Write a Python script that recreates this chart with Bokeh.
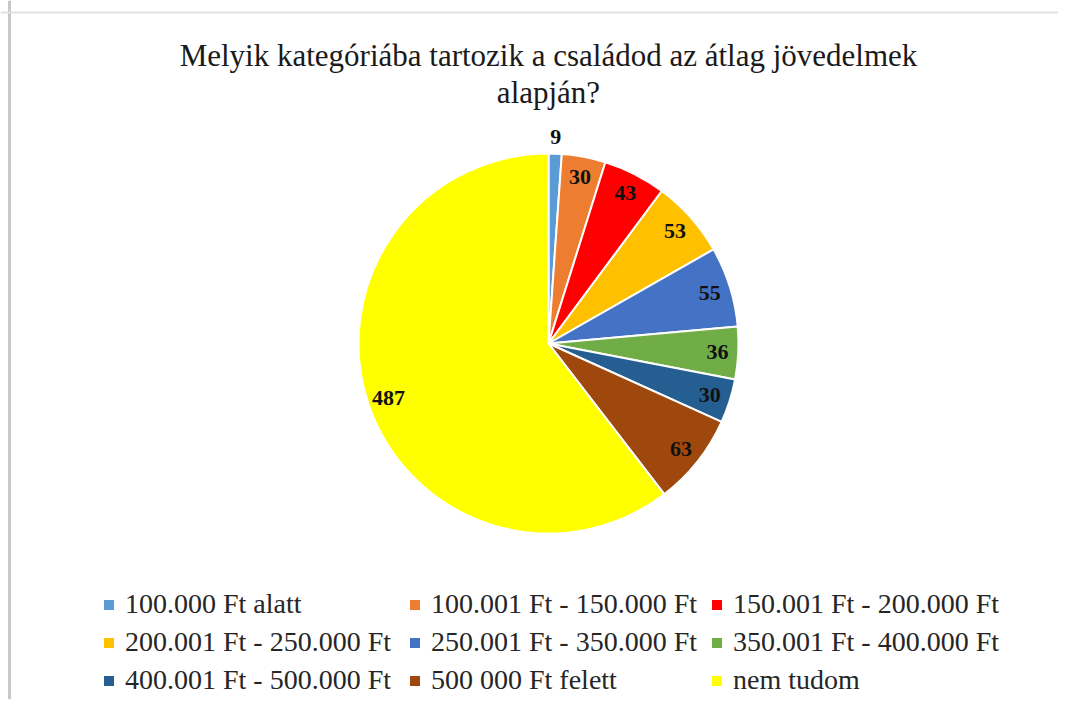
import numpy as np
from bokeh.plotting import figure
from bokeh.models import ColumnDataSource, Legend, LegendItem, Label, Span
from bokeh.core.properties import value
from bokeh.embed import file_html
from bokeh.resources import INLINE

categories = ["100.000 Ft alatt", "100.001 Ft - 150.000 Ft", "150.001 Ft - 200.000 Ft",
              "200.001 Ft - 250.000 Ft", "250.001 Ft - 350.000 Ft", "350.001 Ft - 400.000 Ft",
              "400.001 Ft - 500.000 Ft", "500 000 Ft felett", "nem tudom"]
counts = [9, 30, 43, 53, 55, 36, 30, 63, 487]
colors = ["#5B9BD5", "#ED7D31", "#FF0000", "#FFC000", "#4472C4", "#70AD47",
          "#255E91", "#9E480E", "#FFFF00"]
title_lines = ["Melyik kategóriába tartozik a családod az átlag jövedelmek", "alapján?"]

W, H = 1058, 699
R_PX = 190.0
CX, CY = 548, 343  # pie centre in canvas pixels

vals = np.array(counts, dtype=float)
frac = vals / vals.sum()
cum_end = np.cumsum(frac)
cum_start = cum_end - frac
start = np.pi / 2 - cum_start * 2 * np.pi
end = np.pi / 2 - cum_end * 2 * np.pi
mid = (start + end) / 2
lab_r = np.where(vals < 15, 1.085, 0.89)

src = ColumnDataSource(dict(
    cat=categories, val=counts, color=colors, start=start, end=end,
    lx=lab_r * np.cos(mid), ly=lab_r * np.sin(mid), txt=[str(c) for c in counts]))

p = figure(width=W, height=H, output_backend="svg", toolbar_location=None,
           x_range=(-CX / R_PX, (W - CX) / R_PX), y_range=(-(H - CY) / R_PX, CY / R_PX),
           x_axis_location=None, y_axis_location=None,
           min_border=0, outline_line_color=None)
p.grid.visible = False
p.background_fill_color = "white"
p.border_fill_color = "white"

wedges = p.wedge(x=0, y=0, radius=1, start_angle="start", end_angle="end", direction="clock",
                 fill_color="color", line_color="white", line_width=2, source=src)

p.text(x="lx", y="ly", text="txt", source=src, text_align="center", text_baseline="middle",
       text_font=value("Liberation Serif"), text_font_style="bold", text_font_size="22px",
       text_color="#111111")

# frame edges
p.add_layout(Span(location=(9 - CX) / R_PX, dimension="height", line_color="#c8c8c8", line_width=3))
p.add_layout(Span(location=(CY - 12) / R_PX, dimension="width", line_color="#e2e2e2", line_width=2))

for line, py in zip(title_lines, [55, 92]):
    p.add_layout(Label(x=0, y=(CY - py) / R_PX, text=line, text_align="center",
                       text_baseline="middle", text_font="Liberation Serif",
                       text_font_size="31px", text_color="#1a1a1a"))

col_x = [101, 407, 709]
for c in range(3):
    items = [LegendItem(label=categories[i], renderers=[wedges], index=i)
             for i in range(c, len(categories), 3)]
    lg = Legend(items=items, location=(col_x[c], 3), orientation="vertical",
                padding=0, margin=0, border_line_color=None, background_fill_alpha=0,
                glyph_width=15, glyph_height=15, label_standoff=9, spacing=6,
                label_text_font="Liberation Serif", label_text_font_size="28px",
                label_text_color="#262626")
    p.add_layout(lg, "center")

open("out.html", "w").write(file_html(p, INLINE))
